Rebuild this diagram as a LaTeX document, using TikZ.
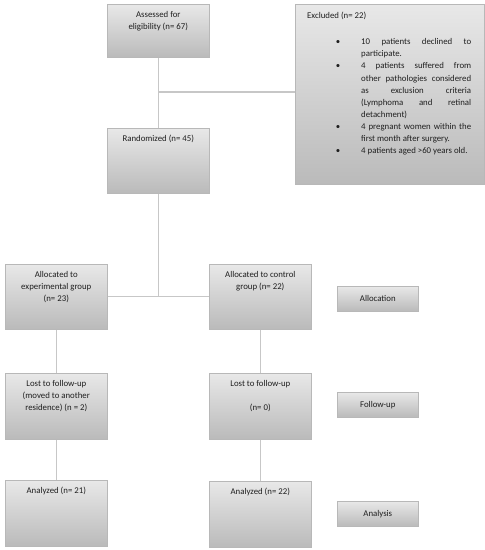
\documentclass[tikz,border=0pt]{standalone}
\usepackage{fontspec}
\setmainfont{Carlito}
\newcommand{\myitem}{\par\leavevmode\llap{\textbullet\hspace{21pt}}}
\begin{document}
\begin{tikzpicture}[x=1pt,y=-1pt,
  box/.style={draw=black!28, line width=0.6pt, top color=black!9, bottom color=black!27, rectangle, inner sep=0pt, anchor=north west},
  lbl/.style={anchor=north, align=center, inner sep=0pt, text=black!88, font=\fontsize{8.8}{12}\selectfont, yshift=-7pt},
  conn/.style={draw=black!22, line width=1.1pt}]
\useasboundingbox (0,0) rectangle (485,550);
% boxes
\node[box, minimum width=102pt, minimum height=53pt, label={[lbl]north:Assessed for\\eligibility (n= 67)}] (assess) at (107,4) {};
\node[box, minimum width=102pt, minimum height=65pt, label={[lbl]north:Randomized (n= 45)}] (rand) at (107,128) {};
\node[box, minimum width=189pt, minimum height=180pt] (excl) at (295,4) {};
\node[anchor=north west, inner sep=0pt, text width=164pt, align=justify, text=black!88, font=\fontsize{8.8}{12.1}\selectfont] (excltext) at (307,12) {%
\parindent=0pt Excluded (n= 22)\par\vspace{14pt}%
\setlength{\leftskip}{54pt}%
\myitem 10 patients declined to\linebreak participate.
\myitem 4 patients suffered from\linebreak other pathologies considered\linebreak as exclusion criteria\linebreak (Lymphoma and retinal\linebreak detachment)
\myitem 4 pregnant women within the\linebreak first month after surgery.
\myitem 4 patients aged >60 years old.\par};
\node[box, minimum width=102pt, minimum height=65pt, label={[lbl]north:Allocated to\\experimental group\\(n= 23)}] (expal) at (5,264) {};
\node[box, minimum width=102pt, minimum height=65pt, label={[lbl,yshift=0pt]north:Allocated to control\\group (n= 22)}] (ctrlal) at (209,264) {};
\node[box, minimum width=81pt, minimum height=25pt, font=\fontsize{8.8}{12}\selectfont, text=black!88] (alloc) at (337,286) {Allocation};
\node[box, minimum width=102pt, minimum height=66pt, label={[lbl]north:Lost to follow-up\\(moved to another\\residence) (n = 2)}] (lostexp) at (5,373) {};
\node[box, minimum width=102pt, minimum height=66pt, label={[lbl]north:Lost to follow-up\\[12pt](n= 0)}] (lostctrl) at (209,373) {};
\node[box, minimum width=81pt, minimum height=25pt, font=\fontsize{8.8}{12}\selectfont, text=black!88] (follow) at (337,392) {Follow-up};
\node[box, minimum width=102pt, minimum height=66pt, label={[lbl]north:Analyzed (n= 21)}] (anaexp) at (5,480) {};
\node[box, minimum width=102pt, minimum height=66pt, label={[lbl]north:Analyzed (n= 22)}] (anactrl) at (209,481) {};
\node[box, minimum width=81pt, minimum height=25pt, font=\fontsize{8.8}{12}\selectfont, text=black!88] (analysis) at (337,501) {Analysis};
% connectors
\draw[conn] (assess.south) -- (rand.north);
\draw[conn] (excl.west |- 0,92) -- (assess.south |- 0,92);
\draw[conn] (rand.south) -- (rand.south |- expal.east);
\draw[conn] (expal.east) -- (ctrlal.west);
\draw[conn] (expal.south) -- (lostexp.north);
\draw[conn] (lostexp.south) -- (anaexp.north);
\draw[conn] (ctrlal.south) -- (lostctrl.north);
\draw[conn] (lostctrl.south) -- (anactrl.north);
\end{tikzpicture}
\end{document}
